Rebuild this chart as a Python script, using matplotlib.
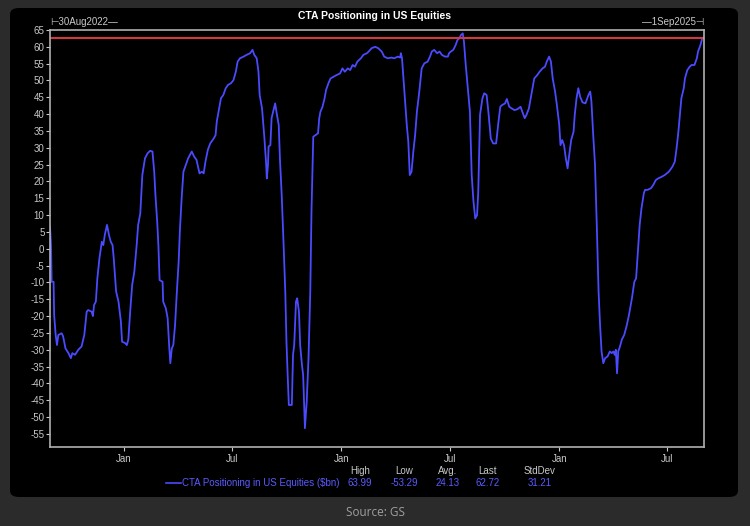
import numpy as np
import matplotlib
matplotlib.use("Agg")
import matplotlib.pyplot as plt
import matplotlib.dates as mdates
from matplotlib.patches import FancyBboxPatch

plt.rcParams['font.family'] = ['Liberation Sans', 'DejaVu Sans']
plt.rcParams['axes.unicode_minus'] = False

# days since 30Aug2022, values in $bn
days = [0, 1.7, 2.8, 6, 7, 9.5, 11.7, 14, 19.6, 22, 26, 31, 35, 37.5, 42, 47.6, 53, 57.6,
        61.6, 64, 70, 72, 74, 77, 79.5, 83, 87, 89.5, 92, 95.7, 99, 102, 105, 107, 111,
        115, 119, 121, 126, 129, 131.5, 135, 138, 141.6, 145.5, 148, 151.6, 155, 159.5,
        164, 168, 172, 175, 177, 180, 182, 184, 189, 190, 194.5, 197.5, 200, 202, 204.5,
        207, 210, 213, 216, 218, 221, 224, 228, 232, 238, 242, 246, 251, 255, 258, 261,
        265, 269, 275, 278, 280, 283, 287, 291, 295, 299, 304, 308, 312, 315, 319, 325,
        330, 336, 340, 343, 347, 350, 352, 356, 360, 363, 364, 366, 367, 370, 372, 376,
        378, 381, 384, 386, 389, 392, 395, 397, 399, 401, 406, 408, 410, 413, 415, 418,
        420, 423, 425, 428, 431, 434, 437, 439, 442, 446, 450, 452, 454, 457.5, 461,
        463.5, 467.5, 471, 476, 481, 487, 491, 495, 500, 504, 508, 512, 516, 522, 526,
        532, 535, 540, 546, 551, 557, 561, 567, 573, 578, 584, 588, 589, 591, 595, 599,
        601.6, 604, 607, 610, 613, 616, 620, 624, 628.5, 634, 638, 641, 645, 650, 654,
        658, 663, 668, 670, 673, 677, 681, 684, 687, 690, 693, 695, 698, 702, 705, 708,
        711, 714, 717, 719, 722, 726, 729, 733, 736, 740, 744, 749, 753, 756, 759, 764,
        767, 771, 775, 780, 785, 790, 793, 797, 800, 804, 809, 813, 818, 822, 827, 831,
        834, 838, 841, 844, 848, 851, 855, 857, 860, 863, 866, 869, 871, 875, 879, 881,
        884, 887, 890, 894, 899, 904, 907, 909, 912, 915, 918, 921, 923.5, 926, 929, 932,
        936, 940, 943, 946, 948, 950, 952, 954, 957, 960, 964, 968, 972, 977, 981, 984,
        987, 990, 993, 997, 999, 1003, 1009, 1013, 1017, 1021, 1027, 1032, 1039, 1045,
        1049, 1052, 1055, 1058, 1060, 1064, 1066, 1070, 1074, 1077, 1082, 1086, 1088,
        1092, 1095, 1097]
vals = [6.6, 1.1, -9.8, -9.8, -19.7, -25.6, -28.6, -25.6, -25.1, -26, -29.6, -31, -32.5,
        -31, -31.5, -30, -29, -25.6, -18.7, -18.2, -18.7, -20, -16.7, -15.7, -8.8, -2.8,
        2.1, 1.1, 4.1, 7.1, 4.1, 2.1, 1.1, -2.8, -12.7, -15.7, -21.6, -27.6, -28, -28.6,
        -27, -17.7, -10.7, -6.8, 1.1, 7.1, 10.5, 21.9, 26.9, 28.4, 29.1, 28.9, 22.9, 16,
        8, 1, -9.3, -9.8, -15.7, -17.7, -20.6, -28.6, -34, -29.6, -28.6, -22.6, -12.7,
        -3.8, 5.1, 15, 22.9, 24.9, 26.9, 28.9, 27.4, 26.4, 22.4, 22.9, 22.4, 25.9, 29.4,
        31.3, 32.8, 33.8, 37.8, 40.7, 44.7, 45.7, 47.7, 48.7, 49.2, 50.1, 52.6, 55.6,
        56.6, 57.1, 57.6, 58.1, 59.1, 57.6, 56.6, 52.6, 45.7, 41.7, 32.8, 24.9, 20.9, 25,
        30.4, 30.8, 38.8, 41.7, 43.2, 39.8, 36.8, 26.9, 16, 2.1, -12.7, -27.6, -37.5,
        -46.4, -46.4, -31.5, -28.6, -15.7, -14.7, -18.7, -28.6, -34.5, -37.5, -53.3,
        -45.4, -32.5, -12.7, 11, 33.3, 33.8, 34.3, 38.8, 40.7, 42.2, 44.7, 47.2, 49.2,
        50.6, 51.1, 51.6, 52.1, 53.6, 52.6, 53.6, 53.1, 54.6, 54.1, 55.6, 56.6, 57.6,
        58.1, 58.6, 59.6, 60, 59.6, 58.6, 57.1, 56.6, 56.8, 56.6, 57.1, 56.8, 58.1, 56.6,
        46.7, 36.8, 31.8, 21.9, 22.9, 28.9, 33.8, 40.7, 46.7, 53.6, 55.1, 55.6, 57.1,
        58.6, 59.1, 58.1, 58.6, 57.6, 57.1, 57.1, 58.1, 58.6, 59.1, 60.5, 62, 62.5, 63.5,
        63.99, 61.5, 54.6, 46.7, 40.7, 21.9, 14, 9, 10, 17, 39.8, 44.7, 46.2, 45.7, 40.7,
        32.8, 31.3, 31.3, 37.8, 42.2, 42.7, 43.2, 44.5, 42.2, 41.7, 41.2, 41.5, 42.2,
        40.7, 38.8, 39.8, 41.7, 46.7, 50.6, 51.6, 52.6, 53.6, 54.1, 55.6, 57.1, 55.6,
        50.6, 46.7, 42.7, 36.8, 30.8, 32.3, 30.8, 26.9, 23.9, 26.9, 32.3, 34.8, 39.8,
        44.7, 47.7, 45.2, 43.5, 43.2, 45.7, 46.7, 43.7, 33.8, 25, 7, -12.7, -22.6, -30.5,
        -34, -32.5, -32, -30.5, -31, -30.5, -31.5, -30, -37, -30.5, -29, -27, -25.6, -23,
        -19.7, -14.7, -9.8, -8.8, -0.8, 7.1, 12, 16.5, 17.5, 17.5, 18, 19, 20.4, 20.9,
        21.4, 21.9, 22.9, 24.4, 25.9, 29.9, 34.8, 40.7, 44.7, 47.7, 50.6, 53.1, 54.1,
        54.6, 54.6, 56.6, 58.6, 60.5, 62.5, 62.72]

last_val = 62.72
stat_names = ["High", "Low", "Avg.", "Last", "StdDev"]
stat_vals = ["63.99", "-53.29", "24.13", "62.72", "31.21"]
series_name = r"CTA Positioning in US Equities (\$bn)"

start = np.datetime64('2022-08-30')
dates = start + (np.array(days) * 24).round().astype('timedelta64[h]')

fig = plt.figure(figsize=(7.5, 5.26), dpi=100)
fig.patch.set_facecolor('#2b2b2b')

panel = FancyBboxPatch((10 / 750, 1 - 497 / 526), 728 / 750, 489 / 526,
                       boxstyle="round,pad=0,rounding_size=0.012",
                       transform=fig.transFigure, facecolor='black', edgecolor='none',
                       zorder=-10)
fig.patches.append(panel)

ax = fig.add_axes([50 / 750, 1 - 446.7 / 526, 654 / 750, 416.7 / 526])
ax.set_zorder(5)
ax.set_facecolor('black')

ax.plot(dates, vals, color='#4a4aff', lw=1.3)
ax.axhline(last_val, color='#d03a3a', lw=1.5)

ax.set_ylim(-58.8, 65)
ax.set_xlim(start, start + np.timedelta64(1098, 'D'))
ax.set_yticks(np.arange(-55, 66, 5))

ax.xaxis.set_major_locator(mdates.MonthLocator(bymonth=[1, 7]))
ax.xaxis.set_major_formatter(mdates.DateFormatter('%b'))

for s in ax.spines.values():
    s.set_color('#b0b0b0')
    s.set_linewidth(1.2)
ax.tick_params(colors='#c8c8c8', labelsize=7, length=3, width=0.8)
ax.tick_params(axis='y', pad=1)
ax.tick_params(axis='x', pad=2)

fig.text(0.5, 1 - 16 / 526, "CTA Positioning in US Equities", color='white',
         fontsize=7.5, fontweight='bold', ha='center', va='center')
fig.text(50 / 750, 1 - 22 / 526, "⊢30Aug2022—", color='#c8c8c8', fontsize=7,
         ha='left', va='center')
fig.text(704 / 750, 1 - 22 / 526, "—1Sep2025⊣", color='#c8c8c8', fontsize=7,
         ha='right', va='center')

# legend / stats block
fig.lines.append(plt.Line2D([166 / 750, 181 / 750], [1 - 483 / 526] * 2,
                            transform=fig.transFigure, color='#4a4aff', lw=1.2))
fig.text(182 / 750, 1 - 483 / 526, series_name, color='#5a5aff', fontsize=7,
         ha='left', va='center')
xs = [360, 404, 448, 488, 540]
for x, n, v in zip(xs, stat_names, stat_vals):
    fig.text(x / 750, 1 - 471 / 526, n, color='#c8c8c8', fontsize=7, ha='center', va='center')
    fig.text(x / 750, 1 - 483 / 526, v, color='#5a5aff', fontsize=7, ha='center', va='center')

fig.text(0.5, 1 - 513 / 526, "Source: GS", color='#a0a0a0', fontsize=8.5,
         ha='center', va='center', family=['Open Sans', 'DejaVu Sans'])

fig.savefig('out.png', dpi=100, facecolor=fig.get_facecolor())
